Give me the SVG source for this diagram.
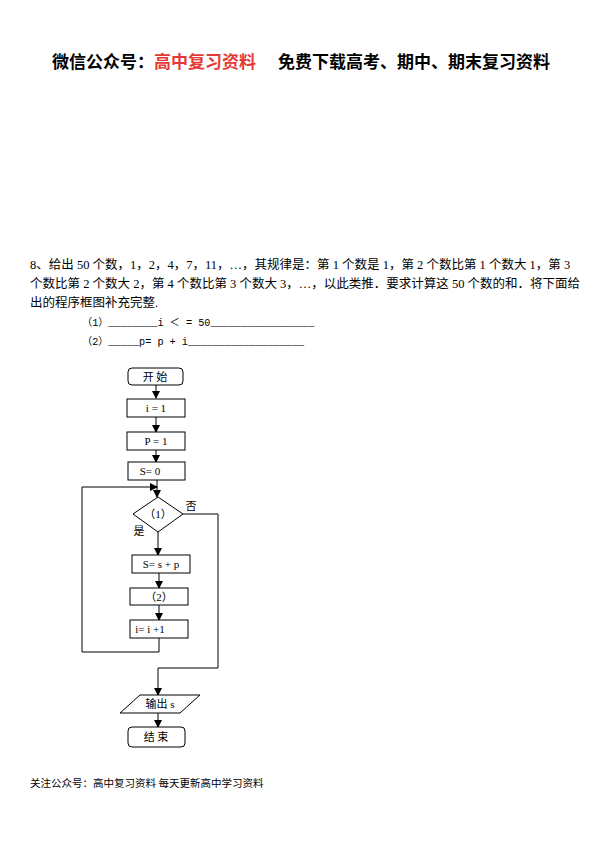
<svg xmlns="http://www.w3.org/2000/svg" width="600" height="847" viewBox="0 0 600 847">
<defs>
<marker id="ar" markerWidth="8" markerHeight="8" refX="7" refY="4" orient="auto" markerUnits="userSpaceOnUse"><path d="M0,0 L8,4 L0,8 z" fill="#000"/></marker>
<style>
.b{fill:#fff;stroke:#000;stroke-width:1}
.t{font-family:"Liberation Serif","Noto Sans CJK SC",serif;font-size:11px;text-anchor:middle}
.p{font-family:"Liberation Serif","Noto Sans CJK SC",serif;font-size:12.5px}
.m{font-family:"Liberation Mono","Noto Sans CJK SC",monospace;font-size:10.2px}
.c{fill:none;stroke:#000;stroke-width:1}
.h{font-family:"Noto Sans CJK SC",sans-serif;font-size:17px;font-weight:bold}
</style>
</defs>
<rect width="600" height="847" fill="#fff"/>
<text x="52" y="68" class="h">微信公众号：<tspan fill="#e53935">高中复习资料</tspan><tspan dx="22">免费下载高考、期中、期末复习资料</tspan></text>
<text x="30" y="269" class="p">8、给出 50 个数，1，2，4，7，11，…，其规律是：第 1 个数是 1，第 2 个数比第 1 个数大 1，第 3</text>
<text x="30" y="288" class="p">个数比第 2 个数大 2，第 4 个数比第 3 个数大 3，…，以此类推．要求计算这 50 个数的和．将下面给</text>
<text x="30" y="307" class="p">出的程序框图补充完整.</text>
<text x="82" y="326" class="m">（1）________i ＜ = 50_________________</text>
<text x="82" y="345" class="m">（2）_____p= p + i___________________</text>
<g id="connectors">
<line class="c" x1="156" y1="385" x2="156" y2="398" marker-end="url(#ar)"/>
<line class="c" x1="156" y1="417" x2="156" y2="432" marker-end="url(#ar)"/>
<line class="c" x1="156" y1="450" x2="156" y2="462" marker-end="url(#ar)"/>
<line class="c" x1="157" y1="480" x2="157" y2="497" marker-end="url(#ar)"/>
<polyline class="c" points="158,532 158,555" marker-end="url(#ar)"/>
<line class="c" x1="159" y1="573" x2="159" y2="588" marker-end="url(#ar)"/>
<line class="c" x1="159" y1="605" x2="159" y2="620" marker-end="url(#ar)"/>
<polyline class="c" points="159,638 159,652 82,652 82,487 157,487" marker-end="url(#ar)"/>
<polyline class="c" points="183,514 218,514 218,668 158,668 158,695" marker-end="url(#ar)"/>
<line class="c" x1="158" y1="713" x2="158" y2="727" marker-end="url(#ar)"/>
<text x="191" y="510" class="t">否</text>
<text x="139" y="535" class="t">是</text>
</g>
<g id="start"><rect class="b" x="128" y="368" width="55" height="17" rx="4"/><text x="155" y="381" class="t">开  始</text></g>
<g id="i1"><rect class="b" x="127" y="399" width="58" height="18"/><text x="156" y="412" class="t">i = 1</text></g>
<g id="p1"><rect class="b" x="127" y="432" width="58" height="18"/><text x="156" y="445" class="t">P = 1</text></g>
<g id="s0"><rect class="b" x="128" y="462" width="57" height="18"/><text x="150" y="475" class="t">S= 0</text></g>
<g id="cond"><polygon class="b" points="158,497 183,514 158,532 133,514"/><text x="158" y="518" class="t">（1）</text></g>
<g id="ssp"><rect class="b" x="132" y="555" width="58" height="18"/><text x="161" y="568" class="t">S= s + p</text></g>
<g id="step2"><rect class="b" x="130" y="588" width="58" height="17"/><text x="159" y="601" class="t">（2）</text></g>
<g id="inc"><rect class="b" x="130" y="620" width="58" height="18"/><text x="150" y="633" class="t">i= i +1</text></g>
<g id="out"><polygon class="b" points="140,695 200,695 180,713 120,713"/><text x="160" y="708" class="t">输出  s</text></g>
<g id="end"><rect class="b" x="128" y="727" width="57" height="20" rx="4"/><text x="156" y="741" class="t">结  束</text></g>
<text x="30" y="787" style="font-family:'Liberation Serif','Noto Sans CJK SC',serif;font-size:10.5px">关注公众号：高中复习资料    每天更新高中学习资料</text>
</svg>
